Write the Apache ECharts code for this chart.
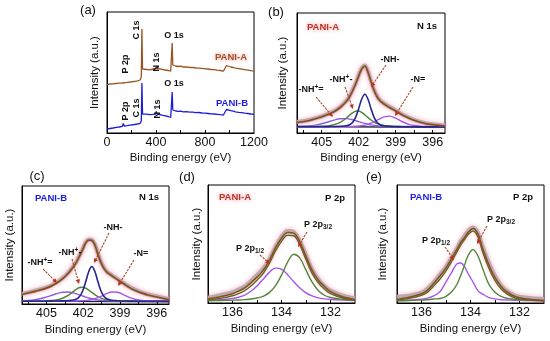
<!DOCTYPE html>
<html><head><meta charset="utf-8">
<script src="https://cdn.jsdelivr.net/npm/echarts@6/dist/echarts.min.js"></script>
<style>html,body{margin:0;padding:0;background:#fff}#c{width:550px;height:341px}</style>
</head><body><div id="c"></div>
<script>
// ---------- (a) XPS survey ----------
const surveyEnergy = [0,25,50,75,100,125,133,140,165,190,200,225,250,270,280,285,290,300,325,350,375,398,402,410,425,450,475,500,520,528,532,537,545,560,580,600,625,650,675,700,725,750,775,800,825,850,875,900,925,950,965,975,990,1010,1030,1050,1075,1100,1125,1150,1175,1200];
const surveyPaniA = [48.5,49,49.2,49.5,49.8,50,52,50.3,50.6,51,51.3,51.7,52.2,53,56,104,64,63,63.5,63.2,64,64.5,67,64.5,64,63.6,63,62.5,61.8,62.5,90,68,67.5,67,66.5,66.8,66,66.2,65.5,65.6,65,64.8,64.6,64.2,64,63.5,63.3,62.8,62.5,61.8,62.5,67.5,67,66,65.5,64.8,64.3,63.8,63.3,62.9,62.4,62];
const surveyPaniB = [4,4.5,5,5.6,6,6.6,9.5,7,7.4,7.9,8.1,8.5,9,9.6,12,50,19,18.5,18.8,18.3,18.6,19,21.5,19,18.2,17.8,17.2,16.5,15.5,15,41,23,22.5,22,21.7,21.9,21.2,21.4,20.8,20.9,20.4,20.5,20,19.8,19.5,19.2,19,18.7,18.3,18,18.5,23.5,23,22.3,21.8,21.2,20.7,20.3,19.8,19.5,19,18.7];

// ---------- (b) N 1s, PANI-A ----------
const n1sEnergyA = [407,406,405.5,405,404.5,404,403.5,403,402.75,402.5,402.25,402,401.75,401.5,401.25,401,400.75,400.5,400.25,400,399.5,399,398.5,398,397.5,397,396.5,395];
const n1sRawA   = [11,13,14.8,16.5,19.2,21.8,26,32.2,36.5,42.8,49.5,57.5,64.8,67.5,61.8,52,43,36.8,32.5,30,26.2,22.6,18.8,15.8,13.2,11.2,9.6,7.5];
const n1sEnvA   = [10.5,12.5,14.2,16.2,18.5,21.3,25.5,31.5,36,42,49,57,64,67,61,51.5,42.5,36,32,29.5,25.5,22,18.3,15.3,12.7,10.7,9.2,7];
const n1sNHA    = [6.2,6.2,6.3,6.3,6.4,6.5,6.7,7.3,8.3,10.6,15.7,24.3,34,38.7,34,24.3,15.7,10.6,8.3,7.3,6.7,6.5,6.3,6.2,6.2,6.1,6.1,6.0];
const n1sNHpA   = [6.3,6.4,6.5,6.7,7.1,8.2,10.6,15.0,17.7,20.1,21.7,21.9,20.5,18.2,15.5,13.0,11.0,9.4,8.3,7.6,6.9,6.6,6.5,6.4,6.3,6.25,6.2,6.15];
const n1sNHeqA  = [6.4,7.1,7.9,9.2,11.0,12.9,14.2,14.4,13.9,13.2,12.3,11.4,10.4,9.6,8.8,8.1,7.6,7.2,6.9,6.7,6.45,6.3,6.25,6.2,6.15,6.1,6.1,6.0];
const n1sNeqA   = [6.1,6.1,6.15,6.2,6.2,6.3,6.3,6.4,6.5,6.6,6.8,7.0,7.4,7.9,8.7,9.8,11.2,12.8,14.4,15.9,16.9,14.8,11.5,8.9,7.5,6.8,6.5,6.2];
const n1sBaseEnergy = [407,395];
const n1sBaseA  = [6.5,5.6];

// ---------- (c) N 1s, PANI-B ----------
const n1sEnergyB = [407,406.2,405.7,405.2,404.7,404.2,403.7,403.2,402.8,402.55,402.3,402.05,401.8,401.55,401.3,401.05,400.8,400.55,400.3,400.05,399.7,399.2,398.7,398.2,397.7,397.2,396.7,395];
const n1sRawB   = [9.8,12,13.6,15.2,17.4,20.6,24.8,30.6,36.6,41,47,53,59.6,62.4,62,57.6,48.6,40.6,34.8,31,28.2,24,20,16.4,13.4,11,9.2,4.8];
const n1sEnvB   = [9.2,11.5,13,14.6,16.8,20,24.2,30,36,40.5,46.5,52.5,59,61.8,61.5,57,48,40,34.2,30.5,27.6,23.4,19.5,15.8,12.8,10.5,8.7,4.3];
const n1sNHB    = [2.6,2.6,2.7,2.7,2.8,2.9,3.0,3.3,3.9,4.8,7.2,12.6,21.4,31.4,36.3,31.4,21.4,12.6,7.2,4.8,3.7,3.2,2.9,2.8,2.7,2.7,2.6,2.6];
const n1sNHpB   = [2.8,2.8,2.9,3.0,3.3,3.9,5.5,8.6,12.1,14.3,15.9,16.3,15.3,13.5,11.2,9.0,7.1,5.7,4.7,4.0,3.5,3.1,2.95,2.85,2.8,2.75,2.7,2.65];
const n1sNHeqB  = [3.1,3.7,4.6,6.0,7.9,9.9,11.4,11.6,10.6,9.8,8.8,7.7,6.7,5.8,5.1,4.4,4.0,3.6,3.3,3.2,3.0,2.8,2.7,2.65,2.6,2.6,2.6,2.6];
const n1sNeqB   = [2.6,2.6,2.6,2.6,2.7,2.7,2.75,2.8,2.9,2.95,3.05,3.2,3.4,3.8,4.4,5.2,6.2,7.4,8.9,10.2,11.6,11.4,8.9,6.2,4.4,3.4,3.05,2.8];
const n1sBaseB  = [2.8,2.2];

// ---------- (d) P 2p, PANI-A ----------
const p2pEnergyA = [137,136.5,136,135.75,135.5,135.25,135,134.75,134.5,134.25,134,133.75,133.5,133.25,133,132.75,132.5,132.25,132,131.5,131];
const p2pRawA   = [5,7.5,10.5,13,16,21,27,33,42,54,64,69.5,68.5,60,46,32.5,23,16.5,12,7,4.5];
const p2pEnvA   = [4,6,9,11.5,14.5,19.5,25,31.5,41,53,62.5,68,67.5,59,45,31.5,22,16,11,6,3.5];
const p2pFitA   = [3,4.5,7,9,12,16.5,22,28.5,38,50,59.5,65.5,65,56,42,28.5,19.5,13.5,9,4.8,2.8];
const p2p32A    = [2.1,2.4,2.7,2.9,3.3,3.8,4.8,6.5,10.0,16.6,26.9,39.5,47.1,43.3,31.7,20.1,12.1,7.5,5.3,3.5,2.8];
const p2p12A    = [2.6,3.1,4.3,5.6,7.7,11.3,16.4,22.9,29.6,33.7,32.7,27.3,20.5,14.4,9.8,6.8,5.0,4.0,3.4,2.8,2.4];

// ---------- (e) P 2p, PANI-B ----------
const p2pEnergyB = [137,136.5,136,135.75,135.5,135.25,135,134.75,134.55,134.4,134.25,134.1,133.9,133.7,133.5,133.25,133,132.75,132.5,132.25,132,131.5,131];
const p2pRawB   = [6,7,10,14,20,27.5,35,45,53,59.5,64.5,69.5,73,68,54,38.5,26,17,11.5,8,6,4.5,4];
const p2pEnvB   = [3.5,5.5,9,12.5,19,26,34,44,52,58.5,63,68,72,67,52.5,37,24.5,16,10.5,7,5,3.3,2.5];
const p2pFitB   = [3,4.5,7.5,10.5,16.5,23,31,41,49.5,56,61,66,69.5,64,49,33.5,21.5,13.5,8.5,5.5,4,2.8,2.2];
const p2p32B    = [2.2,2.4,2.9,3.2,3.8,4.4,6.5,11.3,18.1,26.6,36.1,45.7,51.7,45.7,33.1,18.1,10.3,6.3,4.5,3.7,3.1,2.6,2.25];
const p2p12B    = [2.3,2.7,3.7,4.7,6.8,10.9,20.3,30.4,37.9,38.6,35.3,28.5,20.3,12.0,8.6,5.25,4.0,3.2,2.9,2.6,2.5,2.25,2.1];

// ---------- tick labels ----------
const surveyTickLabels = [0,400,800,1200];
const surveyTicks = [200,400,600,800,1000];
const n1sTickLabels = [396,399,402,405];
const n1sTicks = [396,397.5,399,400.5,402,403.5,405,406.5];
const p2pTickLabels = [132,134,136];
const p2pTicks = [132,133,134,135,136];

// ================= chart =================
const FONT = '"Liberation Sans", Arial, Helvetica, sans-serif';
const C_BROWN = '#8f4a1f', C_SURVEY_A = '#9a5424', C_BLUE = '#1c1ce0';
const C_NH = '#25258f', C_NHP = '#55853a', C_NHEQ = '#8c5ce6', C_NEQ = '#a855ee';
const C_FIT = '#5d6a25', C_BASE = '#1b1b40', C_ARROW = '#a3502e';

const pairs = (xs, ys) => xs.map((x, i) => [x, ys[i]]);

const grids = [
  {left:107, top:12, width:147, height:121},
  {left:297, top:13, width:148, height:120},
  {left:22, top:186, width:147, height:118},
  {left:208, top:185, width:147, height:118},
  {left:397, top:185, width:147, height:118}
].map(g => Object.assign({show:true, borderColor:'#000', borderWidth:1, backgroundColor:'transparent', containLabel:false}, g));

function xAx(i, min, max, inverse, labels, ticks, gap) {
  return {
    gridIndex:i, type:'value', min, max, inverse,
    axisLine:{show:true, lineStyle:{color:'#000', width:1}},
    axisTick:{show:true, inside:true, length:3, customValues:ticks, lineStyle:{color:'#000'}},
    minorTick:{show:false},
    axisLabel:{show:true, customValues:labels, margin:3, fontSize:12.5, color:'#111', fontFamily:FONT, formatter:v => String(v)},
    splitLine:{show:false},
    name:'Binding energy (eV)', nameLocation:'middle', nameGap:gap,
    nameTextStyle:{fontSize:11.5, color:'#111', fontFamily:FONT}
  };
}
function yAx(i, max, gap) {
  return {
    gridIndex:i, type:'value', min:0, max,
    axisLine:{show:true, lineStyle:{color:'#000'}}, axisTick:{show:false}, axisLabel:{show:false}, splitLine:{show:false},
    name:'Intensity (a.u.)', nameLocation:'middle', nameGap:gap, nameRotate:90,
    nameTextStyle:{fontSize:11.5, color:'#111', fontFamily:FONT}
  };
}

function line(i, xs, ys, color, width, opt) {
  return Object.assign({
    type:'line', xAxisIndex:i, yAxisIndex:i, data:pairs(xs, ys), smooth:0.35, symbol:'none', silent:true,
    lineStyle:{color, width}, z:3
  }, opt || {});
}
function raw(i, xs, ys) {
  return line(i, xs, ys, 'rgba(180,180,180,0.95)', 4, {
    lineStyle:{color:'rgba(175,172,172,0.95)', width:4, shadowColor:'rgba(255,80,120,0.55)', shadowBlur:4},
    z:2
  });
}

const series = [
  // (a)
  line(0, surveyEnergy, surveyPaniA, C_SURVEY_A, 1.3, {smooth:false}),
  line(0, surveyEnergy, surveyPaniB, C_BLUE, 1.3, {smooth:false}),
  // (b)
  raw(1, n1sEnergyA, n1sRawA),
  line(1, n1sBaseEnergy, n1sBaseA, C_BASE, 1.4, {smooth:false}),
  line(1, n1sEnergyA, n1sNHeqA, C_NHEQ, 1.4),
  line(1, n1sEnergyA, n1sNHpA, C_NHP, 1.5),
  line(1, n1sEnergyA, n1sNeqA, C_NEQ, 1.4),
  line(1, n1sEnergyA, n1sNHA, C_NH, 1.6),
  line(1, n1sEnergyA, n1sEnvA, C_BROWN, 1.7, {z:4}),
  // (c)
  raw(2, n1sEnergyB, n1sRawB),
  line(2, n1sBaseEnergy, n1sBaseB, C_BASE, 1.4, {smooth:false}),
  line(2, n1sEnergyB, n1sNHeqB, C_NHEQ, 1.4),
  line(2, n1sEnergyB, n1sNHpB, C_NHP, 1.5),
  line(2, n1sEnergyB, n1sNeqB, C_NEQ, 1.4),
  line(2, n1sEnergyB, n1sNHB, C_NH, 1.6),
  line(2, n1sEnergyB, n1sEnvB, C_BROWN, 1.7, {z:4}),
  // (d)
  raw(3, p2pEnergyA, p2pRawA),
  line(3, p2pEnergyA, p2p12A, C_NEQ, 1.4),
  line(3, p2pEnergyA, p2p32A, C_NHP, 1.4),
  line(3, p2pEnergyA, p2pFitA, C_FIT, 1.4, {z:4}),
  line(3, p2pEnergyA, p2pEnvA, C_BROWN, 1.5, {z:4}),
  // (e)
  raw(4, p2pEnergyB, p2pRawB),
  line(4, p2pEnergyB, p2p12B, C_NEQ, 1.4),
  line(4, p2pEnergyB, p2p32B, C_NHP, 1.4),
  line(4, p2pEnergyB, p2pFitB, C_FIT, 1.4, {z:4}),
  line(4, p2pEnergyB, p2pEnvB, C_BROWN, 1.5, {z:4})
];

// ---------- annotations ----------
const RICH = {
  t:{fontSize:9, fontWeight:'bold', fontFamily:FONT, fill:'#111', lineHeight:12},
  sup:{fontSize:6.5, fontWeight:'bold', fontFamily:FONT, fill:'#111', verticalAlign:'top', lineHeight:8},
  sub:{fontSize:6.5, fontWeight:'bold', fontFamily:FONT, fill:'#111', verticalAlign:'bottom', lineHeight:8}
};
function txt(x, y, text, o) {
  o = o || {};
  return {
    type:'text', x, y, rotation:o.rot || 0, z:10, silent:true,
    style:Object.assign({
      text, align:'center', verticalAlign:'middle',
      fontSize:o.size || 9, fontWeight:o.weight || 'bold', fontFamily:FONT,
      fill:o.color || '#111', rich:RICH
    }, o.style || {})
  };
}
function arrow(x1, y1, x2, y2) {
  const a = Math.atan2(y2 - y1, x2 - x1), L = 4.5, W = 2.2;
  const bx = x2 - L * Math.cos(a), by = y2 - L * Math.sin(a);
  return [
    {type:'line', z:9, silent:true, shape:{x1, y1, x2:bx, y2:by}, style:{stroke:C_ARROW, lineWidth:1.1, lineDash:[2.5,1]}},
    {type:'polygon', z:9, silent:true, shape:{points:[[x2, y2], [bx + W * Math.sin(a), by - W * Math.cos(a)], [bx - W * Math.sin(a), by + W * Math.cos(a)]]}, style:{fill:'#c0301e'}}
  ];
}
const panelLabel = (x, y, s) => txt(x, y, s, {size:13, weight:'normal', color:'#111'});
const R90 = Math.PI / 2;
const glowRed = {textShadowColor:'rgba(255,120,140,0.9)', textShadowBlur:4};

const graphics = [
  // (a)
  panelLabel(88, 10, '(a)'),
  txt(126, 64, 'P 2p', {rot:R90}), txt(137, 30, 'C 1s', {rot:R90}), txt(157, 62, 'N 1s', {rot:R90}), txt(174, 36, 'O 1s'),
  txt(126, 111, 'P 2p', {rot:R90}), txt(137, 108, 'C 1s', {rot:R90}), txt(158, 109, 'N 1s', {rot:R90}), txt(174, 84, 'O 1s'),
  txt(231, 57, 'PANI-A', {size:9.5, color:C_SURVEY_A, style:glowRed}),
  txt(232, 103, 'PANI-B', {size:9.5, color:C_BLUE}),
  // (b)
  panelLabel(276, 12, '(b)'),
  txt(323, 27, 'PANI-A', {size:9.5, color:'#b8382a', style:glowRed}),
  txt(427, 26, 'N 1s', {size:9.5}),
  txt(390, 60, '{t|-NH-}'),
  txt(341, 80, '{t|-NH}{sup|+}{t|-}'),
  txt(311, 90, '{t|-NH}{sup|+}{t|=}'),
  txt(418, 80, '{t|-N=}'),
  ...arrow(316, 97, 333, 117), ...arrow(345, 87, 353, 109), ...arrow(386, 65, 371, 87), ...arrow(413, 87, 395, 116),
  // (c)
  panelLabel(37, 176, '(c)'),
  txt(51, 198, 'PANI-B', {size:9.5, color:C_BLUE}),
  txt(149, 197, 'N 1s', {size:9.5}),
  txt(113, 228, '{t|-NH-}'),
  txt(70, 253, '{t|-NH}{sup|+}{t|-}'),
  txt(40, 263, '{t|-NH}{sup|+}{t|=}'),
  txt(141, 254, '{t|-N=}'),
  ...arrow(43, 269, 57, 283), ...arrow(72, 259, 79, 284), ...arrow(109, 233, 94, 263), ...arrow(134, 260, 118, 286),
  // (d)
  panelLabel(187, 177, '(d)'),
  txt(235, 197, 'PANI-A', {size:9.5, color:'#b8382a', style:glowRed}),
  txt(335, 198, 'P 2p', {size:9.5}),
  txt(318, 225, '{t|P 2p}{sub|3/2}'),
  txt(250, 249, '{t|P 2p}{sub|1/2}'),
  ...arrow(307, 232, 298, 247), ...arrow(260, 255, 270, 264),
  // (e)
  panelLabel(374, 177, '(e)'),
  txt(426, 197, 'PANI-B', {size:9.5, color:C_BLUE}),
  txt(523, 197, 'P 2p', {size:9.5}),
  txt(501, 220, '{t|P 2p}{sub|3/2}'),
  txt(436, 241, '{t|P 2p}{sub|1/2}'),
  ...arrow(487, 226, 477, 244), ...arrow(445, 247, 454, 260)
];

const chart = echarts.init(document.getElementById('c'), null, {renderer:'canvas', width:550, height:341});
chart.setOption({
  backgroundColor:'#fff',
  animation:false,
  textStyle:{fontFamily:FONT},
  grid:grids,
  xAxis:[
    xAx(0, 0, 1200, false, surveyTickLabels, surveyTicks, 19),
    xAx(1, 395, 407, true, n1sTickLabels, n1sTicks, 19),
    xAx(2, 395, 407, true, n1sTickLabels, n1sTicks, 20),
    xAx(3, 131, 137, true, p2pTickLabels, p2pTicks, 20),
    xAx(4, 131, 137, true, p2pTickLabels, p2pTicks, 20)
  ],
  yAxis:[yAx(0, 121, 6), yAx(1, 120, 8), yAx(2, 114, 6), yAx(3, 114, 5), yAx(4, 114, 8)],
  series,
  graphic:graphics
});
</script></body></html>
